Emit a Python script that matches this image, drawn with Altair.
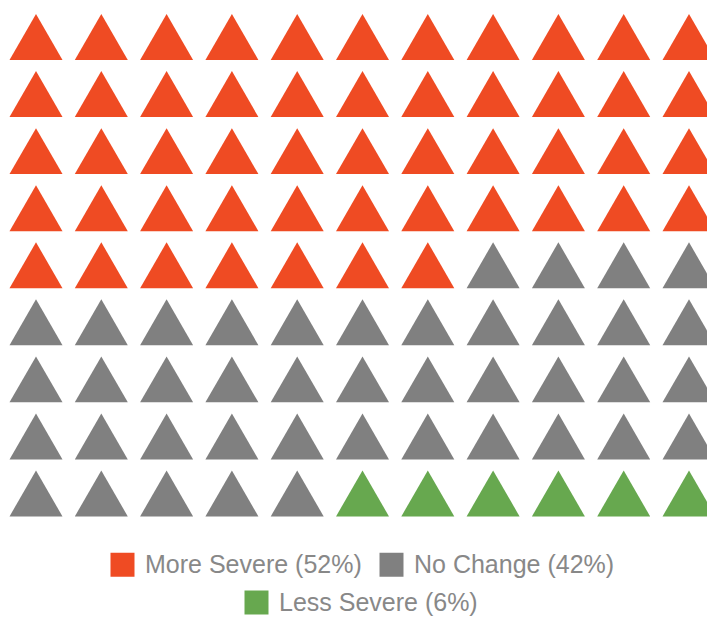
import altair as alt
import pandas as pd

categories = ["More Severe (52%)", "No Change (42%)", "Less Severe (6%)"]
counts = [51, 42, 6]
colors = ["#EF4B23", "#808080", "#67A84F"]
n_cols = 11

rows = []
idx = 0
for cat, n in zip(categories, counts):
    for _ in range(n):
        rows.append({"col": idx % n_cols, "row": idx // n_cols, "category": cat})
        idx += 1
df = pd.DataFrame(rows)

x = alt.X("col:Q", axis=None, scale=alt.Scale(domain=[0, 10], range=[28, 681], nice=False, zero=False))
y = alt.Y("row:Q", axis=None, scale=alt.Scale(domain=[0, 8], range=[29, 485.5], nice=False, zero=False))

legend_common = dict(
    title=None, orient="none", direction="horizontal",
    symbolType="square", symbolSize=576, symbolStrokeWidth=0,
    labelFontSize=25, labelColor="#888888", labelFont="Liberation Sans",
    labelOffset=10, columnPadding=17, padding=0, labelLimit=400,
)

a = alt.Chart(df).transform_filter(
    alt.FieldOneOfPredicate(field="category", oneOf=categories[:2])
).mark_point(shape="triangle-up", filled=True, size=2809, opacity=1, strokeWidth=0).encode(
    x=x, y=y,
    color=alt.Color("category:N", scale=alt.Scale(domain=categories[:2], range=colors[:2]),
                    legend=alt.Legend(legendX=102, legendY=544, **legend_common)),
)

b = alt.Chart(df).transform_filter(
    alt.FieldEqualPredicate(field="category", equal=categories[2])
).mark_point(shape="triangle-up", filled=True, size=2809, opacity=1, strokeWidth=0).encode(
    x=x, y=y,
    color=alt.Color("category:N", scale=alt.Scale(domain=categories[2:], range=colors[2:]),
                    legend=alt.Legend(legendX=236, legendY=582, **legend_common)),
)

chart = alt.layer(a, b).resolve_scale(color="independent").properties(
    width=699, height=608, autosize=alt.AutoSizeParams(type="none"), padding=0,
).configure_view(stroke=None)

chart.save("out.html", embed_options={"renderer": "svg", "actions": False})
